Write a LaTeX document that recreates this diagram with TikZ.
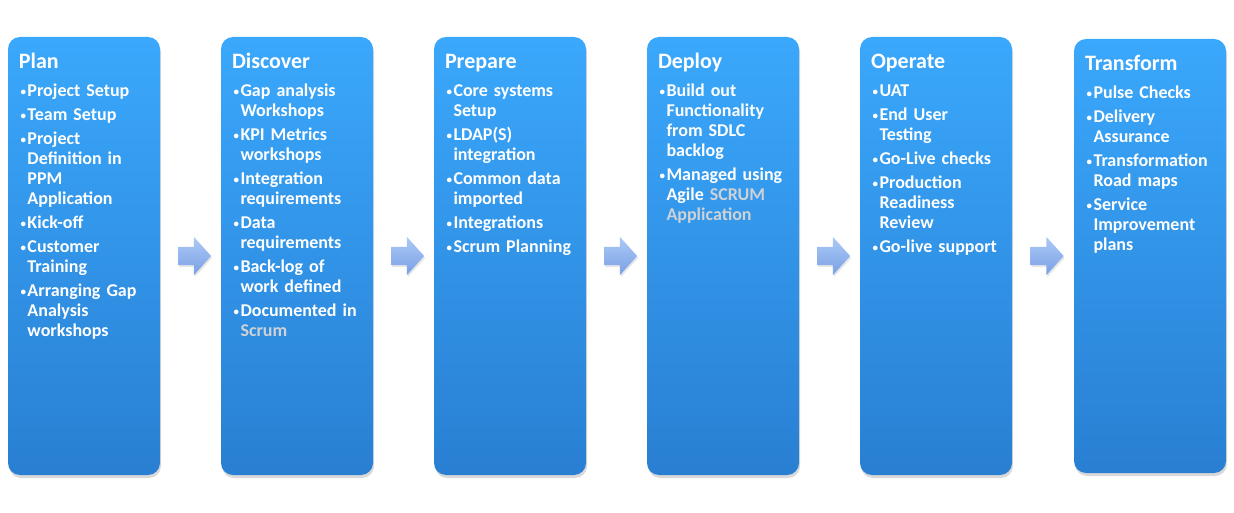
\documentclass[tikz,border=0pt]{standalone}
\usepackage{fontspec}
\setmainfont{Carlito}
\usetikzlibrary{shapes.arrows,shadows,calc}

\definecolor{boxtop}{RGB}{58,168,252}
\definecolor{boxbottom}{RGB}{41,127,210}
\definecolor{arrowtop}{RGB}{172,202,247}
\definecolor{arrowbottom}{RGB}{122,160,228}
\definecolor{scrumgrey}{RGB}{206,210,214}

\newcommand{\stagehead}[1]{{\fontsize{22}{22}\selectfont #1}\par\vspace{4pt}}
\newcommand{\stagedot}{\makebox[8.5pt][c]{\raisebox{1.6pt}{\fontsize{11}{11}\selectfont •}}}
\newcommand{\stageitem}[1]{\par\vspace{4pt}\hangindent=8.5pt\hangafter=1\noindent\stagedot#1\par}

\begin{document}
\begin{tikzpicture}[%
      x=1pt, y=-1pt,
      stagebox/.style={rectangle, rounded corners=12pt, inner sep=0pt,
        minimum width=152pt, minimum height=438pt,
        top color=boxtop, bottom color=boxbottom,
        drop shadow={shadow xshift=1pt, shadow yshift=-3pt, opacity=0.3}},
      stagetext/.style={anchor=base west, inner sep=0pt, text width=145pt,
        align=left, text=white, font=\bfseries\fontsize{18}{20}\selectfont},
      stagearrow/.style={single arrow, single arrow head extend=10pt,
        single arrow tip angle=96, inner xsep=0pt, inner ysep=9pt,
        minimum height=33pt, top color=arrowtop, bottom color=arrowbottom,
        drop shadow={shadow xshift=1pt, shadow yshift=-2pt, opacity=0.2}},
      ]
      \useasboundingbox (0,0) rectangle (1234,513);

      % stages
      \node[stagebox] (plan) at (84,256) {};
      \node[stagebox] (discover) at (297,256) {};
      \node[stagebox] (prepare) at (510,256) {};
      \node[stagebox] (deploy) at (723,256) {};
      \node[stagebox] (operate) at (936,256) {};
      \node[stagebox, minimum height=434pt] (transform) at (1150,256) {};

      % arrows between the stages
      \node[stagearrow] (arrow1) at ($(plan.east)!0.5!(discover.west)$) {};
      \node[stagearrow] (arrow2) at ($(discover.east)!0.5!(prepare.west)$) {};
      \node[stagearrow] (arrow3) at ($(prepare.east)!0.5!(deploy.west)$) {};
      \node[stagearrow] (arrow4) at ($(deploy.east)!0.5!(operate.west)$) {};
      \node[stagearrow] (arrow5) at ($(operate.east)!0.5!(transform.west)$) {};

      % texts
      \node[stagetext] (plantxt) at ([shift={(11pt,-32pt)}]plan.north west) {%
        \stagehead{Plan}
        \stageitem{Project Setup}
        \stageitem{Team Setup}
        \stageitem{Project\newline Definition in\newline PPM\newline Application}
        \stageitem{Kick-off}
        \stageitem{Customer\newline Training}
        \stageitem{Arranging Gap\newline Analysis\newline workshops}};
      \node[stagetext] (discovertxt) at ([shift={(11pt,-32pt)}]discover.north west) {%
        \stagehead{Discover}
        \stageitem{Gap analysis\newline Workshops}
        \stageitem{KPI Metrics\newline workshops}
        \stageitem{Integration\newline requirements}
        \stageitem{Data\newline requirements}
        \stageitem{Back-log of\newline work defined}
        \stageitem{Documented in\newline \textcolor{scrumgrey}{Scrum}}};
      \node[stagetext] (preparetxt) at ([shift={(11pt,-32pt)}]prepare.north west) {%
        \stagehead{Prepare}
        \stageitem{Core systems\newline Setup}
        \stageitem{LDAP(S)\newline integration}
        \stageitem{Common data\newline imported}
        \stageitem{Integrations}
        \stageitem{Scrum Planning}};
      \node[stagetext] (deploytxt) at ([shift={(11pt,-32pt)}]deploy.north west) {%
        \stagehead{Deploy}
        \stageitem{Build out\newline Functionality\newline from SDLC\newline backlog}
        \stageitem{Managed using\newline Agile \textcolor{scrumgrey}{SCRUM}\newline \textcolor{scrumgrey}{Application}}};
      \node[stagetext] (operatetxt) at ([shift={(11pt,-32pt)}]operate.north west) {%
        \stagehead{Operate}
        \stageitem{UAT}
        \stageitem{End User\newline Testing}
        \stageitem{Go-Live checks}
        \stageitem{Production\newline Readiness\newline Review}
        \stageitem{Go-live support}};
      \node[stagetext] (transformtxt) at ([shift={(11pt,-32pt)}]transform.north west) {%
        \stagehead{Transform}
        \stageitem{Pulse Checks}
        \stageitem{Delivery\newline Assurance}
        \stageitem{Transformation\newline Road maps}
        \stageitem{Service\newline Improvement\newline plans}};
\end{tikzpicture}
\end{document}
